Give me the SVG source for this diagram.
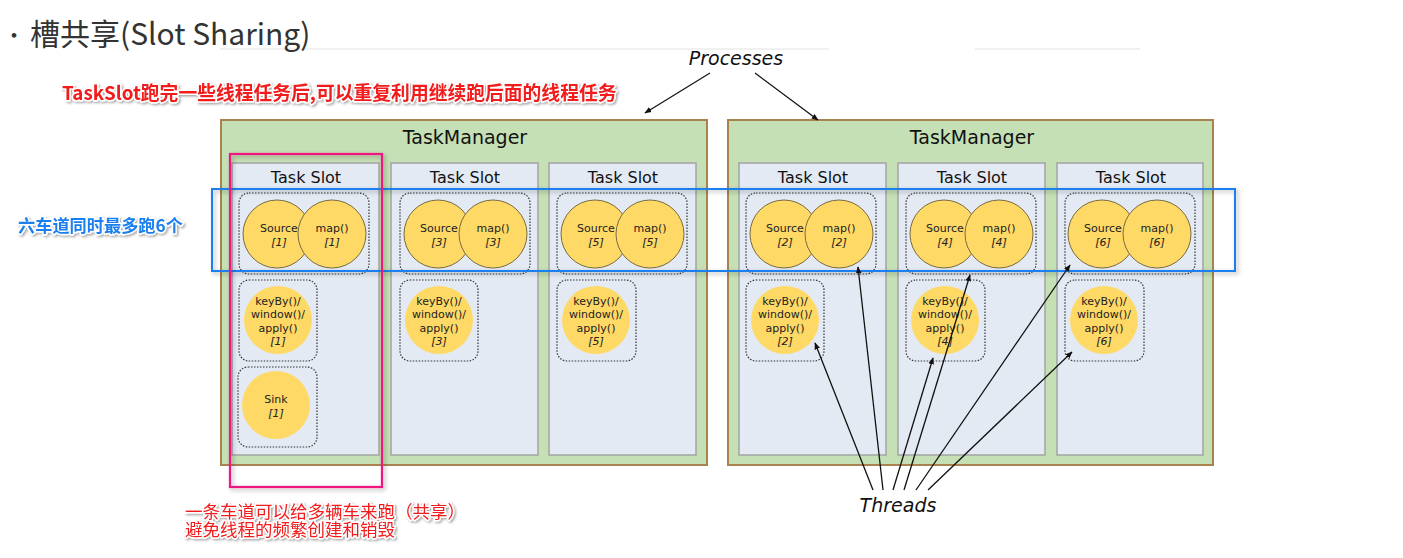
<svg xmlns="http://www.w3.org/2000/svg" width="1403" height="558" viewBox="0 0 1403 558">
<defs>
<style>
.tm{fill:#c5e0b4;stroke:#a8824f;stroke-width:2}
.tmt{font-family:"DejaVu Sans",sans-serif;font-size:19px;fill:#111;text-anchor:middle}
.slot{fill:#e4eaf4;stroke:#a3a3a3;stroke-width:1.5}
.slt{font-family:"DejaVu Sans",sans-serif;font-size:16px;fill:#111;text-anchor:middle}
.grp{fill:none;stroke:#333;stroke-width:1.2;stroke-dasharray:1.5 1.5}
.op{fill:#ffd966;stroke:#7a6a40;stroke-width:1}
.op2{fill:#ffd966}
.ct{font-family:"DejaVu Sans",sans-serif;font-size:11px;fill:#222;text-anchor:middle}
.ci{font-style:italic}
.lbl{font-family:"DejaVu Sans",sans-serif;font-size:19px;font-style:italic;fill:#111;text-anchor:middle}
.con{stroke:#111;stroke-width:1.3;fill:none;marker-end:url(#ah)}
.note{paint-order:stroke;stroke:#fff;stroke-width:3;stroke-linejoin:round;filter:url(#sh)}
</style>
<marker id="ah" viewBox="0 0 10 10" refX="9" refY="5" markerWidth="7" markerHeight="7" orient="auto" markerUnits="userSpaceOnUse"><path d="M0,1 L10,5 L0,9 z" fill="#111"/></marker>
<filter id="sh" x="-10%" y="-30%" width="120%" height="160%"><feDropShadow dx="1.5" dy="1.5" stdDeviation="1.2" flood-color="#000" flood-opacity="0.35"/></filter>
<filter id="bs" x="-5%" y="-10%" width="110%" height="120%"><feDropShadow dx="2" dy="2" stdDeviation="2" flood-color="#000" flood-opacity="0.3"/></filter>
</defs>
<rect width="1403" height="558" fill="#fff"/>
<g id="title" font-family="'Noto Sans CJK SC','Noto Sans',sans-serif" fill="#333">
<line x1="220" y1="49" x2="829" y2="49" stroke="#e2e2e2" stroke-width="1"/>
<line x1="975" y1="49" x2="1140" y2="49" stroke="#e2e2e2" stroke-width="1"/>
<text x="3" y="43" font-size="22">·</text>
<text x="30" y="45" font-size="30">槽共享(Slot Sharing)</text>
</g>
<g id="note-top"><text class="note" x="62" y="100" font-family="'Noto Sans CJK SC',sans-serif" font-size="18.8" font-weight="bold" fill="#f21b1b">TaskSlot跑完一些线程任务后,可以重复利用继续跑后面的线程任务</text></g>
<g id="processes"><text class="lbl" x="736" y="65">Processes</text></g>

<g id="tm1">
<rect class="tm" x="221" y="120" width="486" height="345"/>
<text class="tmt" x="465" y="144">TaskManager</text>
</g>
<g id="tm2">
<rect class="tm" x="728" y="120" width="485" height="345"/>
<text class="tmt" x="972" y="144">TaskManager</text>
</g>

<g id="slot1" transform="translate(232,0)">
<rect class="slot" x="0" y="163" width="147" height="292"/>
<text class="slt" x="74" y="183">Task Slot</text>
<rect class="grp" x="7" y="193" width="130" height="81" rx="10"/>
<circle class="op" cx="45" cy="234" r="34"/><circle class="op" cx="100" cy="234" r="34"/>
<text class="ct" x="47" y="232">Source</text><text class="ct ci" x="47" y="246">[1]</text>
<text class="ct" x="100" y="232">map()</text><text class="ct ci" x="100" y="246">[1]</text>
<rect class="grp" x="7" y="280" width="78" height="81" rx="10"/>
<circle class="op2" cx="46" cy="320" r="34"/>
<text class="ct" x="46" y="305">keyBy()/</text><text class="ct" x="46" y="318">window()/</text><text class="ct" x="46" y="332">apply()</text><text class="ct ci" x="46" y="345">[1]</text>
<rect class="grp" x="6" y="367" width="79" height="80" rx="10"/>
<circle class="op2" cx="44" cy="405" r="34"/>
<text class="ct" x="44" y="403">Sink</text><text class="ct ci" x="44" y="417">[1]</text>
</g>
<g id="slot3" transform="translate(391,0)">
<rect class="slot" x="0" y="163" width="147" height="292"/>
<text class="slt" x="74" y="183">Task Slot</text>
<rect class="grp" x="9" y="193" width="130" height="81" rx="10"/>
<circle class="op" cx="47" cy="234" r="34"/><circle class="op" cx="102" cy="234" r="34"/>
<text class="ct" x="48" y="232">Source</text><text class="ct ci" x="48" y="246">[3]</text>
<text class="ct" x="102" y="232">map()</text><text class="ct ci" x="102" y="246">[3]</text>
<rect class="grp" x="9" y="280" width="78" height="81" rx="10"/>
<circle class="op2" cx="48" cy="320" r="34"/>
<text class="ct" x="48" y="305">keyBy()/</text><text class="ct" x="48" y="318">window()/</text><text class="ct" x="48" y="332">apply()</text><text class="ct ci" x="48" y="345">[3]</text>
</g>
<g id="slot5" transform="translate(549,0)">
<rect class="slot" x="0" y="163" width="147" height="292"/>
<text class="slt" x="74" y="183">Task Slot</text>
<rect class="grp" x="8" y="193" width="130" height="81" rx="10"/>
<circle class="op" cx="46" cy="234" r="34"/><circle class="op" cx="101" cy="234" r="34"/>
<text class="ct" x="47" y="232">Source</text><text class="ct ci" x="47" y="246">[5]</text>
<text class="ct" x="101" y="232">map()</text><text class="ct ci" x="101" y="246">[5]</text>
<rect class="grp" x="8" y="280" width="79" height="81" rx="10"/>
<circle class="op2" cx="47" cy="320" r="34"/>
<text class="ct" x="47" y="305">keyBy()/</text><text class="ct" x="47" y="318">window()/</text><text class="ct" x="47" y="332">apply()</text><text class="ct ci" x="47" y="345">[5]</text>
</g>
<g id="slot2" transform="translate(739,0)">
<rect class="slot" x="0" y="163" width="147" height="292"/>
<text class="slt" x="74" y="183">Task Slot</text>
<rect class="grp" x="7" y="193" width="130" height="81" rx="10"/>
<circle class="op" cx="45" cy="234" r="34"/><circle class="op" cx="100" cy="234" r="34"/>
<text class="ct" x="46" y="232">Source</text><text class="ct ci" x="46" y="246">[2]</text>
<text class="ct" x="100" y="232">map()</text><text class="ct ci" x="100" y="246">[2]</text>
<rect class="grp" x="7" y="280" width="78" height="81" rx="10"/>
<circle class="op2" cx="46" cy="320" r="34"/>
<text class="ct" x="46" y="305">keyBy()/</text><text class="ct" x="46" y="318">window()/</text><text class="ct" x="46" y="332">apply()</text><text class="ct ci" x="46" y="345">[2]</text>
</g>
<g id="slot4" transform="translate(898,0)">
<rect class="slot" x="0" y="163" width="147" height="292"/>
<text class="slt" x="74" y="183">Task Slot</text>
<rect class="grp" x="8" y="193" width="130" height="81" rx="10"/>
<circle class="op" cx="46" cy="234" r="34"/><circle class="op" cx="101" cy="234" r="34"/>
<text class="ct" x="47" y="232">Source</text><text class="ct ci" x="47" y="246">[4]</text>
<text class="ct" x="101" y="232">map()</text><text class="ct ci" x="101" y="246">[4]</text>
<rect class="grp" x="8" y="280" width="79" height="81" rx="10"/>
<circle class="op2" cx="47" cy="320" r="34"/>
<text class="ct" x="47" y="305">keyBy()/</text><text class="ct" x="47" y="318">window()/</text><text class="ct" x="47" y="332">apply()</text><text class="ct ci" x="47" y="345">[4]</text>
</g>
<g id="slot6" transform="translate(1057,0)">
<rect class="slot" x="0" y="163" width="146" height="292"/>
<text class="slt" x="74" y="183">Task Slot</text>
<rect class="grp" x="8" y="193" width="130" height="81" rx="10"/>
<circle class="op" cx="45" cy="234" r="34"/><circle class="op" cx="100" cy="234" r="34"/>
<text class="ct" x="46" y="232">Source</text><text class="ct ci" x="46" y="246">[6]</text>
<text class="ct" x="100" y="232">map()</text><text class="ct ci" x="100" y="246">[6]</text>
<rect class="grp" x="8" y="280" width="79" height="81" rx="10"/>
<circle class="op2" cx="47" cy="320" r="34"/>
<text class="ct" x="47" y="305">keyBy()/</text><text class="ct" x="47" y="318">window()/</text><text class="ct" x="47" y="332">apply()</text><text class="ct ci" x="47" y="345">[6]</text>
</g>

<g id="lane-highlight"><rect x="212" y="189" width="1023" height="82" fill="none" stroke="#1a7ff0" stroke-width="2" filter="url(#bs)"/></g>
<g id="slot-highlight"><rect x="230" y="154" width="152" height="333" fill="none" stroke="#f0147f" stroke-width="2.2" filter="url(#bs)"/></g>

<g id="note-lane"><text class="note" x="18" y="232" font-family="'Noto Sans CJK SC',sans-serif" font-size="17.2" font-weight="bold" fill="#1a7ff0">六车道同时最多跑6个</text></g>
<g id="note-bottom">
<text class="note" font-family="'Noto Sans CJK SC',sans-serif" font-size="17.5" fill="#f21b1b"><tspan x="185" y="518">一条车道可以给多辆车来跑（共享）</tspan><tspan x="185" y="536">避免线程的频繁创建和销毁</tspan></text>
</g>
<g id="threads"><text class="lbl" x="898" y="512">Threads</text></g>

<g id="connectors">
<line class="con" x1="710" y1="73" x2="645" y2="113"/>
<line class="con" x1="755" y1="73" x2="818" y2="120"/>
<line class="con" x1="873" y1="490" x2="815" y2="343"/>
<line class="con" x1="883" y1="490" x2="858" y2="267"/>
<line class="con" x1="893" y1="490" x2="933" y2="358"/>
<line class="con" x1="904" y1="490" x2="970" y2="275"/>
<line class="con" x1="916" y1="490" x2="1070" y2="265"/>
<line class="con" x1="928" y1="490" x2="1072" y2="352"/>
</g>
</svg>
